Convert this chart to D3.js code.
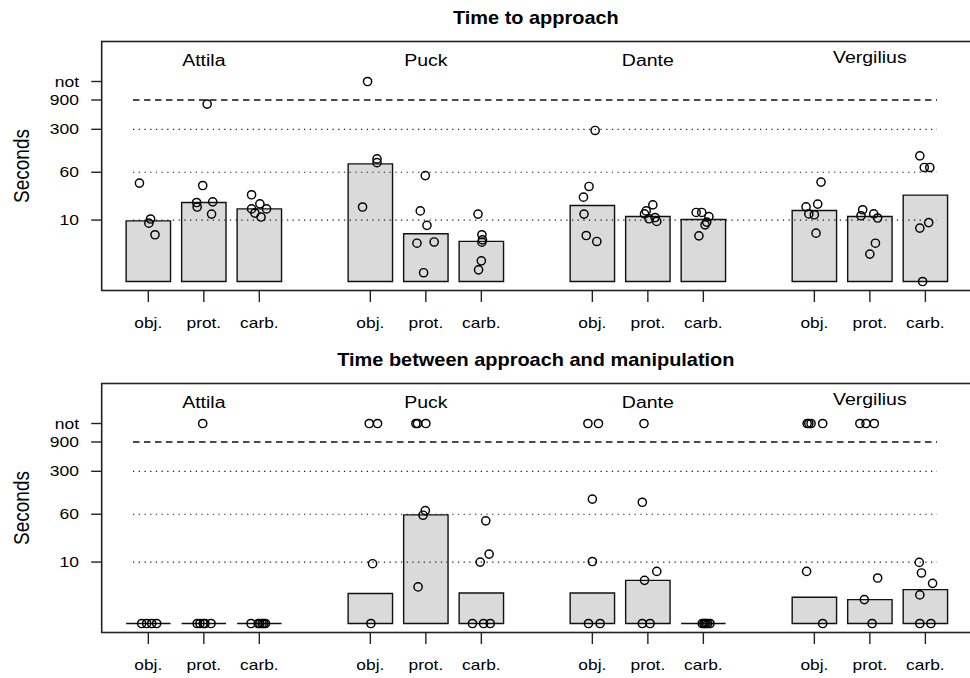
<!doctype html>
<html>
<head>
<meta charset="utf-8">
<title>Approach and manipulation times</title>
<script src="https://d3js.org/d3.v7.min.js"></script>
<style>
body { margin: 0; background: #fff; }
svg { display: block; font-family: "Liberation Sans", Arial, Helvetica, sans-serif; }
</style>
</head>
<body>
<script>
var monkeys = ["Attila", "Puck", "Dante", "Vergilius"];
var foods = ["obj.", "prot.", "carb."];
var yTicks = [10, 60, 300, 900, "not"];
var dottedAt = [10, 60, 300];
var dashedAt = [900];
var NOT = 1800; // where "not" sits on the log axis

// bar heights (seconds), per monkey: obj., prot., carb.
var approachBars = [[9.7, 19.3, 15.2], [82, 6.0, 4.5], [17.3, 11.4, 10.2], [14.3, 11.4, 25.5]];
var manipBars = [[0, 0, 0], [3.07, 58.6, 3.14], [3.14, 5.04, 0], [2.67, 2.45, 3.56]];

// single trials: [seconds or "not", jitter in bar slots]
var approachPts = [
  [ [[40,-.16],[10.4,.04],[8.9,.01],[5.76,.12]],
    [[771,.06],[36.5,-.02],[19.3,-.13],[16.3,-.12],[19.8,.16],[12.5,.14]],
    [[25.8,-.14],[18.4,.01],[15.2,-.14],[13,-.08],[15.2,.13],[11.2,.03]] ],
  [ [["not",-.05],[99,.12],[86,.12],[16.3,-.14]],
    [[53,-.01],[14.1,-.10],[8.2,.02],[4.2,-.16],[4.4,.15],[1.39,-.04]],
    [[12.5,-.06],[5.76,.01],[4.77,.02],[4.37,.01],[2.17,0],[1.55,-.05]] ],
  [ [[287,.05],[35.2,-.06],[23.6,-.16],[12.5,-.15],[5.6,-.11],[4.48,.08]],
    [[17.7,.09],[14.1,-.03],[12.6,-.06],[10.5,.02],[11.0,.13],[9.5,.16]],
    [[13.3,-.13],[13.3,-.03],[11.4,.10],[9.27,.06],[8.37,.03],[5.54,-.08]] ],
  [ [[41.5,.12],[18.2,.06],[16.4,-.15],[12.6,-.10],[12.2,0],[6.12,.03]],
    [[14.7,-.13],[11.75,-.16],[12.6,.07],[10.8,.14],[4.2,.10],[2.79,0]],
    [[111,-.10],[71.7,-.02],[71.7,.08],[7.4,-.10],[9.1,.06],[0,-.05]] ]
];
var manipPts = [
  [ [[0,-.12],[0,-.03],[0,.06],[0,.15]],
    [["not",-.02],[0,-.12],[0,-.07],[0,-.01],[0,.02],[0,.13]],
    [[0,-.15],[0,-.02],[0,.01],[0,.05],[0,.08],[0,.11]] ],
  [ [["not",-.02],["not",.13],[9.4,.04],[0,.01]],
    [["not",-.18],["not",-.15],["not",0],[68.8,-.01],[57.8,-.05],[3.94,-.14]],
    [[46.9,.08],[13.5,.14],[10,-.02],[0,-.16],[0,.04],[0,.16]] ],
  [ [["not",-.08],["not",.11],[106,0],[10.2,0],[0,-.07],[0,.14]],
    [["not",-.07],[94,-.10],[7.05,.16],[5.04,-.06],[0,-.10],[0,.04]],
    [[0,-.02],[0,.01],[0,.03],[0,.05],[0,.08],[0,.12]] ],
  [ [["not",-.13],["not",-.10],["not",-.06],["not",.15],[7.05,-.14],[0,.15]],
    [["not",-.18],["not",-.07],["not",.08],[5.5,.14],[2.45,-.10],[0,.04]],
    [[9.87,-.11],[6.64,-.07],[4.5,.13],[2.92,-.10],[0,-.10],[0,.10]] ]
];

var W = 970, H = 678;
var left = 101.7, right = 972, panelH = 249;
var svg = d3.select("body").append("svg").attr("width", W).attr("height", H);

// slot index: 3 bars per monkey, one empty slot between monkeys
function slot(m, f) { return m * 4 + f; }
var x = d3.scaleLinear().domain([-0.84, 14.84]).range([left, right]);
var slotW = x(1) - x(0), barW = slotW * 0.8;

function val(v) { return v === "not" ? NOT : Math.max(v, 1); }

// text that is a bit wider than the font, like the original
function label(g, txt, tx, ty, o) {
  var t = g.append("text")
    .attr("transform", "translate(" + tx + "," + ty + ") scale(" + (o.sx || 1.25) + ",1)" + (o.rot ? " rotate(" + o.rot + ")" : ""))
    .attr("text-anchor", o.anchor || "middle")
    .style("font-size", o.size + "px")
    .attr("fill", "#000")
    .text(txt);
  if (o.bold) t.style("font-weight", "bold");
  if (o.dy) t.attr("dy", o.dy);
  return t;
}

function panel(top, title, bars, pts) {
  var g = svg.append("g");
  var y = d3.scaleLog().domain([1, NOT]).range([top + 240, top + 40]);
  var bottom = top + panelH;

  label(g, title, (left + right) / 2 - 1, top - 18, {size: 17.5, sx: 1.14, bold: true});

  // bars
  monkeys.forEach(function (m, i) {
    g.selectAll(null).data(bars[i]).enter().append("path")
      .attr("d", function (d, j) {
        var x0 = x(slot(i, j)) - barW / 2, x1 = x0 + barW;
        return "M" + x0 + "," + y(1) + "H" + x1 + "V" + y(val(d)) + "H" + x0 + "Z";
      })
      .attr("fill", "#d9dad9").attr("stroke", "#111").attr("stroke-width", 1.4);
  });

  // reference lines
  var gx0 = 133, gx1 = 937;
  g.selectAll(null).data(dottedAt).enter().append("line")
    .attr("x1", gx0).attr("x2", gx1)
    .attr("y1", function (d) { return y(d); }).attr("y2", function (d) { return y(d); })
    .attr("stroke", "#222").attr("stroke-width", 1.2).attr("stroke-dasharray", "1.3,4.4");
  g.selectAll(null).data(dashedAt).enter().append("line")
    .attr("x1", gx0).attr("x2", gx1)
    .attr("y1", function (d) { return y(d); }).attr("y2", function (d) { return y(d); })
    .attr("stroke", "#111").attr("stroke-width", 1.3).attr("stroke-dasharray", "6.5,4.5");

  // single trials
  monkeys.forEach(function (m, i) {
    foods.forEach(function (f, j) {
      g.selectAll(null).data(pts[i][j]).enter().append("circle")
        .attr("cx", function (d) { return x(slot(i, j) + d[1]); })
        .attr("cy", function (d) { return y(val(d[0])); })
        .attr("r", 4.1)
        .attr("fill", "none").attr("stroke", "#000").attr("stroke-width", 1.45);
    });
  });

  // frame
  g.append("rect").attr("x", left).attr("y", top).attr("width", right - left).attr("height", panelH)
    .attr("fill", "none").attr("stroke", "#222").attr("stroke-width", 1.6);

  // y axis
  var ya = g.append("g");
  yTicks.forEach(function (t) {
    var yy = y(val(t));
    ya.append("line").attr("x1", left - 10.5).attr("x2", left).attr("y1", yy).attr("y2", yy)
      .attr("stroke", "#222").attr("stroke-width", 1.4);
    label(ya, String(t), 79, yy, {size: 14, sx: 1.25, anchor: "end", dy: "0.36em"});
  });
  label(g, "Seconds", 29, top + panelH / 2, {size: 19, sx: 1.2, rot: -90});

  // monkey names
  monkeys.forEach(function (m, i) {
    var nudge = /[gjpqy]/.test(m) ? 2.7 : 0;
    label(g, m, x(slot(i, 1)), top + 24.5 - nudge, {size: 15.6, sx: 1.25});
  });

  // x axis
  monkeys.forEach(function (m, i) {
    foods.forEach(function (f, j) {
      var xx = x(slot(i, j));
      g.append("line").attr("x1", xx).attr("x2", xx).attr("y1", bottom).attr("y2", bottom + 11.5)
        .attr("stroke", "#222").attr("stroke-width", 1.4);
      label(g, f, xx, bottom + 37, {size: 14, sx: 1.24});
    });
  });
}

panel(41.5, "Time to approach", approachBars, approachPts);
panel(383.5, "Time between approach and manipulation", manipBars, manipPts);
</script>
</body>
</html>
